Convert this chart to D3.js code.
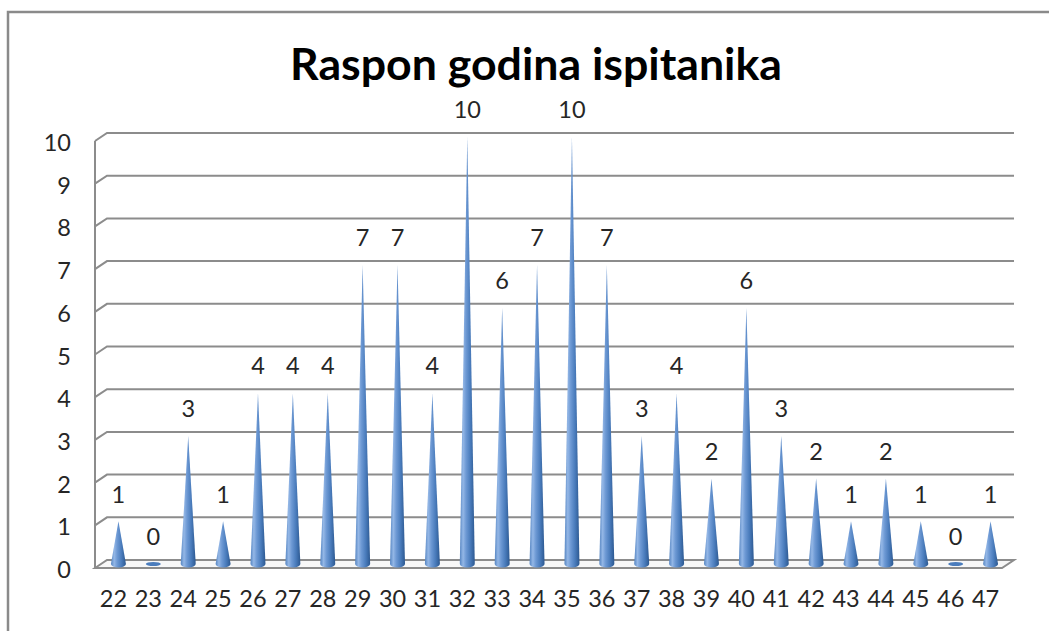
<!DOCTYPE html>
<html>
<head>
<meta charset="utf-8">
<script src="https://cdn.jsdelivr.net/npm/d3@7"></script>
<style>
  html, body { margin: 0; padding: 0; background: #fff; }
  svg { display: block; }
</style>
</head>
<body>
<svg id="chart" width="1049" height="631"></svg>
<script>
const title = "Raspon godina ispitanika";
const categories = ["22","23","24","25","26","27","28","29","30","31","32","33","34","35","36","37","38","39","40","41","42","43","44","45","46","47"];
const values = [1,0,3,1,4,4,4,7,7,4,10,6,7,10,7,3,4,2,6,3,2,1,2,1,0,1];
const yTicks = [0,1,2,3,4,5,6,7,8,9,10];

const W = 1049, H = 631;
const svg = d3.select("#chart");
const FONT = "Lato, 'Open Sans', sans-serif";
const FS = 23.5;

// depth offsets (back plane relative to mid plane)
const dx = 6, dy = -4;

// mid-plane scales
const x = d3.scaleBand().domain(categories).range([101, 1008]);
const y = d3.scaleLinear().domain([0, 10]).range([564, 137]);

// outer frame
svg.append("path")
  .attr("d", `M8,${H} L8,12 L${W},12`)
  .attr("fill", "none").attr("stroke", "#8a8a8a").attr("stroke-width", 2.5);

// defs: cone gradient
const defs = svg.append("defs");
const g1 = defs.append("linearGradient").attr("id", "cone").attr("x1", "0").attr("x2", "1").attr("y1", "0").attr("y2", "0");
[["0%", "#5585c2"], ["22%", "#94b7e6"], ["42%", "#6d99d4"], ["70%", "#4a7cbc"], ["100%", "#2c5890"]]
  .forEach(([o, c]) => g1.append("stop").attr("offset", o).attr("stop-color", c));

const grid = svg.append("g");
const x0 = x.range()[0], x1 = x.range()[1];
// back wall gridlines with left-side wall connector
yTicks.forEach(t => {
  const yb = y(t) + dy, yf = y(t) - dy;
  const xbL = x0 + dx, xfL = x0 - dx;
  if (t === 0) return;
  grid.append("path")
    .attr("d", `M${xfL},${yf} L${xbL},${yb} L${x1 + dx},${yb}`)
    .attr("fill", "none").attr("stroke", "#8c8c8c").attr("stroke-width", 2);
});
// left vertical axis (front)
grid.append("line")
  .attr("x1", x0 - dx).attr("x2", x0 - dx)
  .attr("y1", y(10) - dy).attr("y2", y(0) - dy)
  .attr("stroke", "#8c8c8c").attr("stroke-width", 2);
// floor
grid.append("path")
  .attr("d", `M${x0 - dx},${y(0) - dy} L${x0 + dx},${y(0) + dy} L${x1 + dx},${y(0) + dy} L${x1 - dx},${y(0) - dy} Z`)
  .attr("fill", "#f7f7f7").attr("stroke", "#8c8c8c").attr("stroke-width", 2);

// y axis labels via d3 axis on front scale
const yFront = y.copy().range(y.range().map(v => v - dy + 2));
const yAxis = svg.append("g")
  .attr("transform", `translate(71,0)`)
  .call(d3.axisLeft(yFront).tickValues(yTicks).tickSize(0).tickPadding(0).tickFormat(d3.format("d")));
yAxis.select(".domain").remove();
yAxis.selectAll("text").attr("font-family", FONT).attr("font-size", FS).attr("fill", "#262626");

// x axis labels
const xFront = x.copy().range(x.range().map(v => v - 5));
const xAxis = svg.append("g")
  .attr("transform", `translate(0,590)`)
  .call(d3.axisBottom(xFront).tickSize(0).tickPadding(0));
xAxis.select(".domain").remove();
xAxis.selectAll("text").attr("font-family", FONT).attr("font-size", FS).attr("fill", "#262626");

// cones
const bw = 15, ery = 3.5;
const cones = svg.append("g");
categories.forEach((c, i) => {
  const v = values[i];
  const cx = x(c) + x.bandwidth() / 2;
  const by = y(0);
  if (v === 0) {
    cones.append("ellipse").attr("cx", cx).attr("cy", by).attr("rx", bw / 2).attr("ry", 2)
      .attr("fill", "#4a7cbc");
    return;
  }
  const ty = y(v);
  cones.append("path")
    .attr("d", `M${cx - bw / 2},${by} L${cx},${ty} L${cx + bw / 2},${by} A${bw / 2},${ery} 0 0 1 ${cx - bw / 2},${by} Z`)
    .attr("fill", "url(#cone)");
});

// data labels
svg.append("g").selectAll("text")
  .data(categories)
  .join("text")
  .attr("x", d => x(d) + x.bandwidth() / 2)
  .attr("y", (d, i) => y(values[i]) - 27)
  .attr("dy", "0.35em")
  .attr("text-anchor", "middle")
  .attr("font-family", FONT).attr("font-size", FS).attr("fill", "#262626")
  .text((d, i) => values[i]);

// title
const tt = svg.append("text")
  .attr("x", 536).attr("y", 80)
  .attr("text-anchor", "middle")
  .attr("font-family", FONT).attr("font-weight", 700).attr("font-size", 40)
  .attr("fill", "#000")
  .text(title);
const tw = tt.node().getComputedTextLength();
tt.attr("font-size", 40 * 492 / tw);
</script>
</body>
</html>
